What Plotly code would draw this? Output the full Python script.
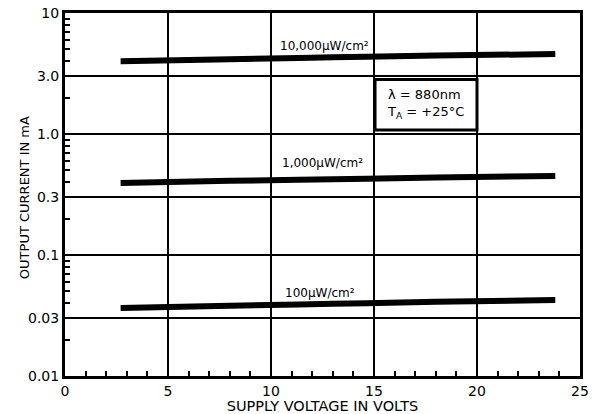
import math
import plotly.graph_objects as go

# Data
volts = [2.7, 8, 13, 18, 23.8]
i_10000 = [4.0, 4.15, 4.3, 4.45, 4.58]
i_1000 = [0.394, 0.41, 0.423, 0.437, 0.45]
i_100 = [0.0365, 0.038, 0.0395, 0.041, 0.0425]

series_labels = ["10,000μW/cm²", "1,000μW/cm²", "100μW/cm²"]
label_pos = [(12.6, 5.33), (12.5, 0.575), (12.4, 0.0485)]

y_tickvals = [0.01, 0.03, 0.1, 0.3, 1, 3, 10]
y_ticktext = ["0.01", "0.03", "0.1", "0.3", "1.0", "3.0", "10"]
x_tickvals = [0, 5, 10, 15, 20, 25]

y_minor = [m * d for d in (0.01, 0.1, 1) for m in (2, 4, 5, 6, 7, 8, 9)]
x_minor = list(range(1, 25))

font = "DejaVu Sans"
fig = go.Figure()
for ys in (i_10000, i_1000, i_100):
    fig.add_trace(go.Scatter(x=volts, y=ys, mode="lines",
                             line=dict(color="black", width=6, shape="spline"),
                             showlegend=False, hoverinfo="skip"))

for (lx, ly), txt in zip(label_pos, series_labels):
    fig.add_annotation(x=lx, y=math.log10(ly), text=txt, showarrow=False,
                       xanchor="center", yanchor="middle",
                       font=dict(family=font, size=12, color="black"))

fig.add_shape(type="rect", x0=15.05, x1=20.0, y0=1.08, y1=2.82,
              line=dict(color="black", width=3), fillcolor="white", layer="above")
fig.add_annotation(x=17.5, y=math.log10(1.76),
                   text="λ = 880nm<br>T<sub>A</sub> = +25°C", showarrow=False,
                   align="left", font=dict(family=font, size=13, color="black"))

# y-axis title placed as a rotated annotation (sits closer to the axis than plotly's title allows)
fig.add_annotation(xref="paper", yref="paper", x=0, y=0.49, xshift=-41,
                   text="OUTPUT CURRENT IN mA", textangle=-90, showarrow=False,
                   xanchor="center", yanchor="middle",
                   font=dict(family=font, size=13, color="black"))

fig.update_xaxes(range=[0, 25], tickvals=x_tickvals, ticks="", showgrid=True,
                 gridcolor="black", gridwidth=1.5, showline=True, linecolor="black",
                 linewidth=3, mirror=True, zeroline=False, automargin=False,
                 ticklabeloverflow="allow",
                 tickfont=dict(family=font, size=14, color="black"),
                 title=dict(text="SUPPLY VOLTAGE IN VOLTS", standoff=2,
                            font=dict(family=font, size=14.5, color="black")),
                 minor=dict(tickvals=x_minor, ticks="inside", ticklen=5,
                            tickcolor="black", tickwidth=1.5, showgrid=False))
fig.update_yaxes(type="log", range=[-2, 1], tickvals=y_tickvals, ticktext=y_ticktext,
                 ticks="", showgrid=True, gridcolor="black", gridwidth=1.5,
                 showline=True, linecolor="black", linewidth=3, mirror=True,
                 zeroline=False, automargin=False, ticklabeloverflow="allow",
                 tickfont=dict(family=font, size=14, color="black"),
                 minor=dict(tickvals=y_minor, ticks="inside", ticklen=5,
                            tickcolor="black", tickwidth=1.5, showgrid=False))

# page body adds an ~8px offset; margins compensate so the plot lands where the reference has it
fig.update_layout(width=590, height=406, margin=dict(l=57, r=18, t=5, b=38),
                  paper_bgcolor="white", plot_bgcolor="white")
fig.write_html("out.html")
